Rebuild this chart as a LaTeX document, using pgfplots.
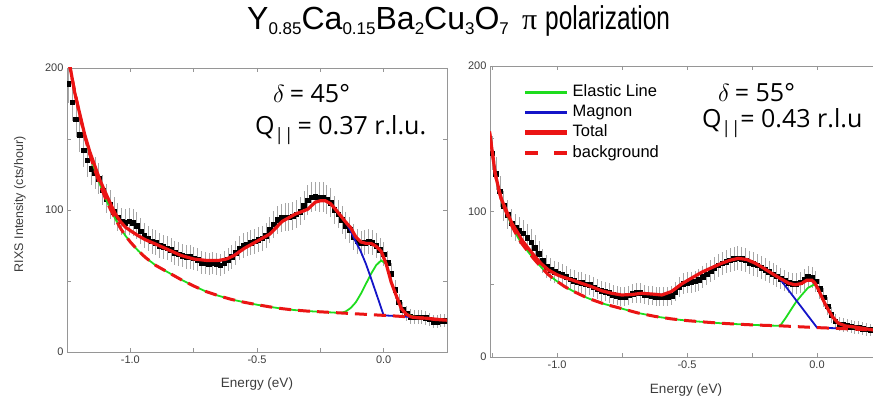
\documentclass[border=0pt]{standalone}
\usepackage{fontspec}
\setmainfont{Liberation Sans}
\newfontfamily\osans{Open Sans}
\newfontfamily\lserif{Liberation Serif}
\usepackage{graphicx}
\usepackage{pgfplots}
\pgfplotsset{compat=1.18}
\usepackage{pgfplotstable}

\definecolor{elgreen}{RGB}{30,220,30}
\definecolor{magblue}{RGB}{20,20,200}
\definecolor{totred}{RGB}{235,20,20}
\definecolor{axgray}{RGB}{150,150,150}
\definecolor{lblgray}{RGB}{60,60,60}

\newcommand{\tsub}[1]{\raisebox{-4.5bp}{\fontsize{17bp}{17bp}\selectfont #1}}

% ---------- left panel data ----------
\pgfplotstableread{
x y e
-1.245 189 13.7
-1.230 176 13.3
-1.215 164 12.8
-1.200 153 12.4
-1.185 142 11.9
-1.170 135 11.6
-1.155 129 11.4
-1.140 126 11.2
-1.125 122 11.0
-1.110 114 10.7
-1.095 108 10.4
-1.080 104 10.2
-1.065 99 9.9
-1.050 95 9.7
-1.035 92 9.6
-1.020 91 9.5
-1.005 92 9.6
-0.990 91 9.5
-0.975 89 9.4
-0.960 85 9.2
-0.945 82 9.1
-0.930 80 8.9
-0.915 78 8.8
-0.900 77 8.8
-0.885 75 8.7
-0.870 74 8.6
-0.855 73 8.5
-0.840 72 8.5
-0.825 70 8.4
-0.810 69 8.3
-0.795 68 8.2
-0.780 67 8.2
-0.765 67 8.2
-0.750 66 8.1
-0.735 65 8.1
-0.720 63 7.9
-0.705 62.5 7.9
-0.690 62 7.9
-0.675 62.5 7.9
-0.660 62 7.9
-0.645 61 7.8
-0.630 63 7.9
-0.615 65 8.1
-0.600 67 8.2
-0.585 70 8.4
-0.570 73 8.5
-0.555 75 8.7
-0.540 76 8.7
-0.525 77 8.8
-0.510 78 8.8
-0.495 79 8.9
-0.480 80 8.9
-0.465 82 9.1
-0.450 86 9.3
-0.435 90 9.5
-0.420 93 9.6
-0.405 94.5 9.7
-0.390 95 9.7
-0.375 95 9.7
-0.360 95.5 9.8
-0.345 97 9.8
-0.330 99 9.9
-0.315 103 10.1
-0.300 107 10.3
-0.285 109 10.4
-0.270 109.5 10.5
-0.255 109 10.4
-0.240 109 10.4
-0.225 107.5 10.4
-0.210 105 10.2
-0.195 100 10.0
-0.180 97 9.8
-0.165 93 9.6
-0.150 89 9.4
-0.135 86 9.3
-0.120 81 9.0
-0.105 78 8.8
-0.090 76.5 8.7
-0.075 77 8.8
-0.060 77.5 8.8
-0.045 77 8.8
-0.030 75 8.7
-0.015 72 8.5
0.000 69 8.3
0.015 63 7.9
0.030 55 7.4
0.045 44 6.6
0.060 35 5.9
0.075 30 5.5
0.090 27 5.2
0.105 25 5.0
0.120 24.5 4.9
0.135 24.5 4.9
0.150 24.5 4.9
0.165 24 4.9
0.180 23 4.8
0.195 21.5 4.6
0.210 21.5 4.6
0.225 22 4.7
0.240 22 4.7
}\dataL

\pgfplotstableread{
x y
-1.245 206
-1.237 199
-1.22 184
-1.2 167
-1.18 152
-1.16 139
-1.14 128
-1.12 118
-1.10 109
-1.08 101
-1.06 94
-1.04 87.5
-1.02 82
-1.00 77.5
-0.97 71.5
-0.94 66.5
-0.90 61
-0.85 56
-0.80 51
-0.75 46.5
-0.70 42.5
-0.65 39.5
-0.60 37
-0.55 35
-0.50 33.3
-0.45 31.8
-0.40 30.5
-0.35 29.5
-0.30 28.8
-0.25 28.3
-0.20 27.8
-0.15 27.3
-0.10 26.8
-0.05 26.3
0.00 25.8
0.05 25.3
0.10 24.7
0.15 24
0.20 23.2
0.25 22.4
}\bgL

\pgfplotstableread{
x y
-1.245 206
-1.237 199
-1.22 184
-1.2 167
-1.18 152
-1.16 139
-1.14 128
-1.12 118
-1.10 109
-1.08 101
-1.06 94
-1.04 87.5
-1.02 82
-1.00 77.5
-0.97 71.5
-0.94 66.5
-0.90 61
-0.85 56
-0.80 51
-0.75 46.5
-0.70 42.5
-0.65 39.5
-0.60 37
-0.55 35
-0.50 33.3
-0.45 31.8
-0.40 30.5
-0.35 29.5
-0.30 28.8
-0.25 28.3
-0.20 27.8
-0.17 27.5
-0.15 28.5
-0.13 31
-0.11 35
-0.09 41
-0.07 48
-0.05 55
-0.03 61
-0.01 64.5
0.01 62
0.03 49
0.05 39.5
0.07 30.5
0.09 27
0.11 25.3
0.14 24.2
0.20 23.2
0.25 22.4
}\elL

\pgfplotstableread{
x y
-0.60 67.5
-0.55 73
-0.50 78
-0.45 83
-0.40 92
-0.35 97
-0.30 100.5
-0.27 105.5
-0.25 106.5
-0.23 106.5
-0.21 104.5
-0.19 100.5
-0.17 96
-0.15 91.5
-0.13 85
-0.11 77.5
-0.092 71.5
-0.07 62
-0.052 53
-0.026 39.5
0.00 25.8
0.05 25.3
0.10 24.7
}\magL

\pgfplotstableread{
x y
-1.245 206
-1.237 200
-1.22 183
-1.2 168
-1.18 153
-1.16 141
-1.14 131
-1.12 121
-1.10 113
-1.08 105
-1.06 97.5
-1.04 92
-1.02 88
-1.00 85.5
-0.97 82
-0.94 79
-0.90 76
-0.85 72
-0.80 68
-0.75 65.5
-0.70 64.5
-0.65 64.5
-0.62 65.5
-0.59 68
-0.55 73
-0.50 78
-0.45 83
-0.40 92
-0.35 97
-0.30 100.5
-0.27 105.5
-0.25 106.5
-0.23 106.5
-0.21 104.5
-0.19 100.5
-0.17 96
-0.15 91.5
-0.13 87.5
-0.11 81
-0.09 77.5
-0.07 76.5
-0.05 76.5
-0.03 74.5
-0.01 71
0.01 62
0.03 49
0.05 39.5
0.07 30.5
0.09 26.5
0.11 24.6
0.14 24
0.17 23.8
0.20 23
0.25 22.4
}\totL

% ---------- right panel data ----------
\pgfplotstableread{
x y e
-1.250 140 11.8
-1.235 126 11.2
-1.220 114 10.7
-1.205 104 10.2
-1.190 98 9.9
-1.175 92 9.6
-1.160 89 9.4
-1.145 87 9.3
-1.130 85 9.2
-1.115 82 9.1
-1.100 79 8.9
-1.085 75 8.7
-1.070 71 8.4
-1.055 66 8.1
-1.040 62 7.9
-1.025 60 7.7
-1.010 58.5 7.6
-0.995 57.5 7.6
-0.980 56.5 7.5
-0.965 55 7.4
-0.950 53.5 7.3
-0.935 52.5 7.2
-0.920 51.5 7.2
-0.905 51 7.1
-0.890 50 7.1
-0.875 49.5 7.0
-0.860 48 6.9
-0.845 46.5 6.8
-0.830 45.5 6.7
-0.815 45 6.7
-0.800 44 6.6
-0.785 43 6.6
-0.770 42 6.5
-0.755 41.5 6.4
-0.740 41.5 6.4
-0.725 42.5 6.5
-0.710 43.5 6.6
-0.695 44 6.6
-0.680 44 6.6
-0.665 43 6.6
-0.650 42.5 6.5
-0.635 42 6.5
-0.620 41.5 6.4
-0.605 41.5 6.4
-0.590 41.5 6.4
-0.575 41.5 6.4
-0.560 42 6.5
-0.545 45 6.7
-0.530 48 6.9
-0.515 50.5 7.1
-0.500 51 7.1
-0.485 51.5 7.2
-0.470 52 7.2
-0.455 53 7.3
-0.440 55 7.4
-0.425 57 7.5
-0.410 59 7.7
-0.395 61 7.8
-0.380 63 7.9
-0.365 64.5 8.0
-0.350 65.5 8.1
-0.335 66.5 8.2
-0.320 67.5 8.2
-0.305 68 8.2
-0.290 67.5 8.2
-0.275 66.5 8.2
-0.260 65 8.1
-0.245 64 8.0
-0.230 63 7.9
-0.215 61.5 7.8
-0.200 60 7.7
-0.185 58.5 7.6
-0.170 57 7.5
-0.155 55.5 7.5
-0.140 54 7.3
-0.125 52.5 7.2
-0.110 51 7.1
-0.095 50.5 7.1
-0.080 50.5 7.1
-0.065 51.5 7.2
-0.050 53.5 7.3
-0.035 55 7.4
-0.020 54.5 7.4
-0.005 52 7.2
0.010 47 6.9
0.025 41 6.4
0.040 35 5.9
0.055 29 5.4
0.070 24.5 4.9
0.085 22.5 4.7
0.100 22 4.7
0.115 21.5 4.6
0.130 21 4.6
0.145 20.5 4.5
0.160 20 4.5
0.175 19.5 4.4
0.190 19 4.4
0.205 18.7 4.3
0.220 18.5 4.3
}\dataR

\pgfplotstableread{
x y
-1.26 155
-1.25 142
-1.238 126
-1.225 115
-1.213 107
-1.19 97
-1.174 90
-1.15 82
-1.136 78
-1.11 72
-1.085 66.5
-1.06 61.5
-1.033 56.5
-1.00 52
-0.97 48.3
-0.93 44.5
-0.88 40.3
-0.82 36.5
-0.75 33.2
-0.69 30.3
-0.62 27.8
-0.56 26.2
-0.50 25
-0.43 24
-0.37 23.2
-0.30 22.5
-0.24 22
-0.14 21.4
-0.07 20.8
0.00 20.2
0.10 19.5
0.25 18.3
}\bgR

\pgfplotstableread{
x y
-1.26 155
-1.25 142
-1.238 126
-1.225 115
-1.213 107
-1.19 97
-1.174 90
-1.15 82
-1.136 78
-1.11 72
-1.085 66.5
-1.06 61.5
-1.033 56.5
-1.00 52
-0.97 48.3
-0.93 44.5
-0.88 40.3
-0.82 36.5
-0.75 33.2
-0.69 30.3
-0.62 27.8
-0.56 26.2
-0.50 25
-0.43 24
-0.37 23.2
-0.30 22.5
-0.24 22
-0.142 21.4
-0.12 27
-0.097 33.4
-0.078 38.5
-0.059 42.6
-0.035 47.5
-0.014 49.5
-0.002 49
0.005 46.5
0.018 41.4
0.031 36.5
0.044 32.3
0.06 27.5
0.082 23.2
0.11 21.3
0.146 20.1
0.25 18.3
}\elR

\pgfplotstableread{
x y
-0.60 42.8
-0.56 45
-0.52 50.3
-0.48 54.5
-0.443 58.3
-0.40 61.8
-0.367 64.4
-0.335 66.5
-0.303 67.8
-0.27 67
-0.238 64.5
-0.205 61
-0.174 57.5
-0.142 53.5
0.00 20.2
0.05 19.9
0.11 19.5
}\magR

\pgfplotstableread{
x y
-1.26 155
-1.25 142
-1.238 126
-1.225 116
-1.213 108
-1.19 98.5
-1.174 92
-1.15 85
-1.136 80.5
-1.11 74.5
-1.085 69
-1.06 64
-1.033 59.8
-1.00 56.5
-0.982 55.2
-0.94 52.8
-0.905 50.6
-0.87 48.5
-0.828 45.5
-0.79 43.8
-0.751 42.6
-0.71 43
-0.674 43.8
-0.63 43.2
-0.597 42.6
-0.56 45
-0.52 50.3
-0.48 54.5
-0.443 58.3
-0.40 61.8
-0.367 64.4
-0.335 66.5
-0.303 67.8
-0.27 67
-0.238 64.5
-0.205 61
-0.174 57.5
-0.14 53.8
-0.11 50.8
-0.085 49.6
-0.06 50.5
-0.04 52.7
-0.02 52.8
-0.008 50.8
0.005 46.5
0.018 41.4
0.031 36.5
0.044 32.3
0.06 27.5
0.082 23.2
0.11 21.3
0.146 20.6
0.18 19.6
0.215 18.6
0.25 18.2
}\totR

\pgfplotsset{
  rixs/.style={
    scale only axis, anchor=south west,
    clip marker paths=true,
    ymin=0, ymax=200,
    xtick={-1,-0.5,0}, xticklabels={-1.0,-0.5,0.0},
    minor xtick={-1.25,-0.75,-0.25,0.25},
    ytick={0,100,200}, yticklabels={0,100,200},
    minor ytick={50,150},
    tick align=inside, major tick length=4bp, minor tick length=4bp,
    axis line style={axgray, line width=0.8bp},
    tick style={axgray, line width=0.7bp},
    tick label style={font=\fontsize{11bp}{13bp}\selectfont, text=lblgray},
    xlabel style={font=\fontsize{13.5bp}{15bp}\selectfont, text=lblgray},
    ylabel style={font=\fontsize{12.5bp}{14bp}\selectfont, text=lblgray},
  },
  datastyle/.style={only marks, mark=square*, mark size=2.3bp,
    mark options={draw=black, fill=black},
    error bars/y dir=both, error bars/y explicit, error bars/error mark=none,
    error bars/error bar style={gray!70, line width=0.6bp}},
  elstyle/.style={elgreen, line width=1.8bp},
  magstyle/.style={magblue, line width=1.8bp},
  totstyle/.style={totred, line width=3.2bp},
  bgstyle/.style={totred, line width=3bp, dash pattern=on 12bp off 7bp},
}

\begin{document}
\begin{tikzpicture}[x=1bp,y=1bp]
\useasboundingbox (0bp,0bp) rectangle (873bp,397bp);
\clip (0bp,0bp) rectangle (873bp,397bp);

% title
\node[anchor=base west, inner sep=0pt] at (247bp,367bp)
  {\fontsize{32bp}{34bp}\selectfont Y\tsub{0.85}Ca\tsub{0.15}Ba\tsub{2}Cu\tsub{3}O\tsub{7}};
\node[anchor=base west, inner sep=0pt] at (522bp,367bp)
  {\lserif\fontsize{30bp}{30bp}\selectfont π};
\node[anchor=base west, inner sep=0pt] at (545bp,367bp)
  {\scalebox{0.74}[1]{\fontsize{33bp}{35bp}\selectfont polarization}};

% ---------------- left panel ----------------
\begin{axis}[rixs, at={(67bp,45bp)}, width=380bp, height=284bp,
  xmin=-1.25, xmax=0.25,
  xlabel={Energy (eV)},
  xlabel style={at={(axis description cs:0.5,-0.113)}, anchor=center},
  ylabel={RIXS Intensity (cts/hour)},
  ylabel style={at={(axis description cs:-0.124,0.52)}, anchor=center},
]
\addplot[datastyle] table[x=x, y=y, y error=e] {\dataL};
\addplot[elstyle] table[x=x, y=y] {\elL};
\addplot[magstyle] table[x=x, y=y] {\magL};
\addplot[bgstyle] table[x=x, y=y] {\bgL};
\addplot[totstyle] table[x=x, y=y] {\totL};
\end{axis}

% ---------------- right panel ----------------
\begin{axis}[rixs, at={(490bp,40bp)}, width=392bp, height=291bp,
  xmin=-1.258, xmax=0.25,
  xlabel={Energy (eV)},
  xlabel style={at={(axis description cs:0.5,-0.1134)}, anchor=center},
  legend style={draw=none, fill=none, at={(0.0842,0.806)}, anchor=west,
    inner sep=0pt, font=\fontsize{16.5bp}{18bp}\selectfont,
    row sep=4.8bp, column sep=3bp,
    nodes={inner sep=0pt, text height=12bp, text depth=3.5bp}},
  legend cell align=left,
  legend image code/.code={\draw[#1] (0bp,0bp) -- (42bp,0bp);},
]
\addlegendimage{elgreen, line width=3bp}
\addlegendentry{Elastic Line}
\addlegendimage{magblue, line width=3bp}
\addlegendentry{Magnon}
\addlegendimage{totred, line width=4.5bp}
\addlegendentry{Total}
\addlegendimage{totred, line width=4.5bp, dash pattern=on 13bp off 16bp}
\addlegendentry{background}
\addplot[forget plot, datastyle] table[x=x, y=y, y error=e] {\dataR};
\addplot[forget plot, elstyle] table[x=x, y=y] {\elR};
\addplot[forget plot, magstyle] table[x=x, y=y] {\magR};
\addplot[forget plot, bgstyle] table[x=x, y=y] {\bgR};
\addplot[forget plot, totstyle] table[x=x, y=y] {\totR};
\end{axis}

% annotations
\node[anchor=base west, inner sep=0pt] at (273bp,294bp)
  {\fontsize{30bp}{30bp}\selectfont$\delta$\,\osans\fontsize{25bp}{25bp}\selectfont = 45°};
\node[anchor=base west, inner sep=0pt] at (255bp,262bp)
  {\osans\fontsize{25bp}{25bp}\selectfont Q\raisebox{-6bp}{\fontsize{17bp}{17bp}\selectfont ||}\,= 0.37 r.l.u.};
\node[anchor=base west, inner sep=0pt] at (718bp,295bp)
  {\fontsize{30bp}{30bp}\selectfont$\delta$\,\osans\fontsize{25bp}{25bp}\selectfont = 55°};
\node[anchor=base west, inner sep=0pt] at (702bp,269bp)
  {\osans\fontsize{25bp}{25bp}\selectfont Q\raisebox{-6bp}{\fontsize{17bp}{17bp}\selectfont ||}= 0.43 r.l.u};
\end{tikzpicture}
\end{document}
